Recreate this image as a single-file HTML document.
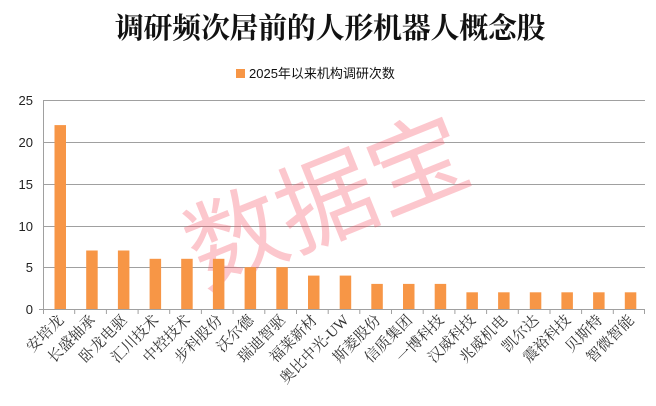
<!DOCTYPE html>
<html><head><meta charset="utf-8"><style>
html,body{margin:0;padding:0;background:#fff;}
svg{display:block;}
</style></head><body>
<svg width="656" height="406" xmlns="http://www.w3.org/2000/svg">
<text x="330" y="38" text-anchor="middle" font-family="'Liberation Serif','Noto Serif CJK SC',serif" font-weight="bold" font-size="29" letter-spacing="-0.3" fill="#111">调研频次居前的人形机器人概念股</text>
<rect x="236" y="69" width="9" height="9" fill="#f79646"/>
<text x="249" y="78" font-family="'Liberation Sans','Noto Sans CJK SC',sans-serif" font-size="13" fill="#111">2025年以来机构调研次数</text>
<g stroke="#a0a0a0" stroke-width="1">
<line x1="43" y1="100.5" x2="645" y2="100.5"/>
<line x1="43" y1="142.5" x2="645" y2="142.5"/>
<line x1="43" y1="184.5" x2="645" y2="184.5"/>
<line x1="43" y1="226.5" x2="645" y2="226.5"/>
<line x1="43" y1="267.5" x2="645" y2="267.5"/>
<line x1="43.5" y1="100" x2="43.5" y2="309"/>
<line x1="39" y1="309.5" x2="645" y2="309.5"/>
<path d="M43.5 309v5M74.7 309v5M106.4 309v5M138.1 309v5M169.7 309v5M201.4 309v5M233.1 309v5M264.8 309v5M296.5 309v5M328.2 309v5M359.8 309v5M391.5 309v5M423.2 309v5M454.9 309v5M486.6 309v5M518.3 309v5M550 309v5M581.6 309v5M613.3 309v5M644.5 309v5"/>
</g>
<g font-family="'Liberation Sans',sans-serif" font-size="13" fill="#222" text-anchor="end">
<text x="33" y="105">25</text><text x="33" y="147">20</text><text x="33" y="189">15</text><text x="33" y="231">10</text><text x="33" y="272">5</text><text x="33" y="314">0</text>
</g>
<text x="328" y="236" text-anchor="middle" font-family="'Noto Sans CJK SC',sans-serif" font-size="98" fill="rgba(245,80,100,0.32)" transform="rotate(-22 328 205)">数据宝</text>
<g fill="#f79646">
<rect x="54.5" y="125.1" width="11.5" height="183.9"/>
<rect x="86.2" y="250.5" width="11.5" height="58.5"/>
<rect x="117.9" y="250.5" width="11.5" height="58.5"/>
<rect x="149.6" y="258.8" width="11.5" height="50.2"/>
<rect x="181.2" y="258.8" width="11.5" height="50.2"/>
<rect x="212.9" y="258.8" width="11.5" height="50.2"/>
<rect x="244.6" y="267.2" width="11.5" height="41.8"/>
<rect x="276.3" y="267.2" width="11.5" height="41.8"/>
<rect x="308.0" y="275.6" width="11.5" height="33.4"/>
<rect x="339.7" y="275.6" width="11.5" height="33.4"/>
<rect x="371.3" y="283.9" width="11.5" height="25.1"/>
<rect x="403.0" y="283.9" width="11.5" height="25.1"/>
<rect x="434.7" y="283.9" width="11.5" height="25.1"/>
<rect x="466.4" y="292.3" width="11.5" height="16.7"/>
<rect x="498.1" y="292.3" width="11.5" height="16.7"/>
<rect x="529.8" y="292.3" width="11.5" height="16.7"/>
<rect x="561.4" y="292.3" width="11.5" height="16.7"/>
<rect x="593.1" y="292.3" width="11.5" height="16.7"/>
<rect x="624.8" y="292.3" width="11.5" height="16.7"/>
</g>
<g font-family="'Liberation Serif','Noto Serif CJK SC',serif" font-size="15" fill="#333" text-anchor="end">
<text x="64.5" y="321" transform="rotate(-45 64.5 321)">安培龙</text>
<text x="96.2" y="321" transform="rotate(-45 96.2 321)">长盛轴承</text>
<text x="127.9" y="321" transform="rotate(-45 127.9 321)">卧龙电驱</text>
<text x="159.6" y="321" transform="rotate(-45 159.6 321)">汇川技术</text>
<text x="191.3" y="321" transform="rotate(-45 191.3 321)">中控技术</text>
<text x="223.0" y="321" transform="rotate(-45 223.0 321)">步科股份</text>
<text x="254.6" y="321" transform="rotate(-45 254.6 321)">沃尔德</text>
<text x="286.3" y="321" transform="rotate(-45 286.3 321)">瑞迪智驱</text>
<text x="318.0" y="321" transform="rotate(-45 318.0 321)">福莱新材</text>
<text x="349.7" y="321" transform="rotate(-45 349.7 321)">奥比中光-UW</text>
<text x="381.4" y="321" transform="rotate(-45 381.4 321)">斯菱股份</text>
<text x="413.1" y="321" transform="rotate(-45 413.1 321)">信质集团</text>
<text x="444.8" y="321" transform="rotate(-45 444.8 321)">一博科技</text>
<text x="476.4" y="321" transform="rotate(-45 476.4 321)">汉威科技</text>
<text x="508.1" y="321" transform="rotate(-45 508.1 321)">兆威机电</text>
<text x="539.8" y="321" transform="rotate(-45 539.8 321)">凯尔达</text>
<text x="571.5" y="321" transform="rotate(-45 571.5 321)">震裕科技</text>
<text x="603.2" y="321" transform="rotate(-45 603.2 321)">贝斯特</text>
<text x="634.9" y="321" transform="rotate(-45 634.9 321)">智微智能</text>
</g>
</svg>
</body></html>
